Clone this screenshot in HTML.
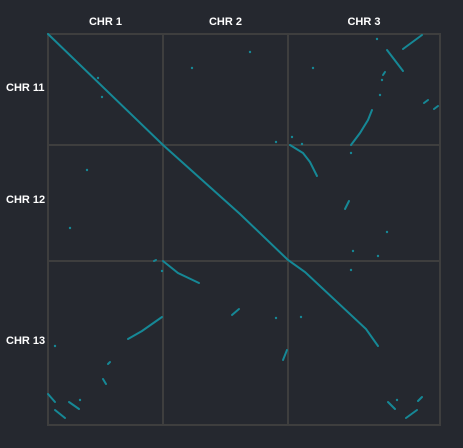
<!DOCTYPE html>
<html><head><meta charset="utf-8"><style>
html,body{margin:0;padding:0;background:#25282f;}
svg{display:block;}
text{font-family:"Liberation Sans",sans-serif;font-weight:bold;font-size:11px;fill:#ffffff;}
</style></head><body>
<svg id="chart" width="463" height="448" viewBox="0 0 463 448">
<rect x="0" y="0" width="463" height="448" fill="#25282f"/>
<g id="grid"></g>
<g id="marks"></g>
<g id="labels"></g>
</svg>
<script>
const xChroms = ["CHR 1","CHR 2","CHR 3"];
const xBounds = [0,115,240,392];
const yChroms = ["CHR 11","CHR 12","CHR 13"];
const yBounds = [0,111,227,391];
const segX = [
 [0,115,192,240,257,318,330],[355,374],[339,355],[337,335],[324,320,312,303],
 [376,380],[386,390],[242,255,262,269],[301,297],[115,130,151],[184,191],
 [239,235],[114,94,80],[62,60],[55,58],[0,7],[7,17],[21,31],[340,347],
 [370,374],[358,369],[106,108]
];
const segY = [
 [0,111,180,226,238,295,312],[15,1],[16,37],[38,41],[76,86,99,111],
 [69,66],[75,72],[111,119,128,142],[167,175],[227,239,249],[281,275],
 [316,326],[283,297,305],[328,330],[345,350],[360,368],[376,384],[368,375],[368,375],
 [367,363],[384,376],[227,226]
];
const dotX = [265,329,202,144,50,54,244,254,228,303,39,22,339,114,228,253,7,32,349,330,305,303,334,332];
const dotY = [34,5,18,34,44,63,103,110,108,119,136,194,198,237,284,283,312,366,366,222,217,236,46,61];

const X0=48,Y0=34,W=392,H=391;
const xs=v=>X0+v*(W/392);
const ys=v=>Y0+v*(H/391);
const NS="http://www.w3.org/2000/svg";
const grid=document.getElementById('grid');
const marks=document.getElementById('marks');
const labels=document.getElementById('labels');
const GC="#3e3e3e";

const frame=document.createElementNS(NS,'rect');
frame.setAttribute('x',xs(0));frame.setAttribute('y',ys(0));
frame.setAttribute('width',W);frame.setAttribute('height',H);
frame.setAttribute('fill','none');frame.setAttribute('stroke',GC);frame.setAttribute('stroke-width','2');


grid.appendChild(frame);

for(let i=1;i<xBounds.length-1;i++){
 const l=document.createElementNS(NS,'line');
 l.setAttribute('x1',xs(xBounds[i]));l.setAttribute('x2',xs(xBounds[i]));
 l.setAttribute('y1',ys(0));l.setAttribute('y2',ys(391));
 l.setAttribute('stroke',GC);l.setAttribute('stroke-width','2');
 
 
 grid.appendChild(l);
}
for(let i=1;i<yBounds.length-1;i++){
 const l=document.createElementNS(NS,'line');
 l.setAttribute('y1',ys(yBounds[i]));l.setAttribute('y2',ys(yBounds[i]));
 l.setAttribute('x1',xs(0));l.setAttribute('x2',xs(392));
 l.setAttribute('stroke',GC);l.setAttribute('stroke-width','2');
 
 
 grid.appendChild(l);
}
xChroms.forEach((c,i)=>{
 const t=document.createElementNS(NS,'text');
 t.setAttribute('x',(xs(xBounds[i])+xs(xBounds[i+1]))/2);
 t.setAttribute('y',25);t.setAttribute('text-anchor','middle');
 t.textContent=c;
 
 
 labels.appendChild(t);
});
const yLabelY=[87,199,340];
yChroms.forEach((c,i)=>{
 const t=document.createElementNS(NS,'text');
 t.setAttribute('x',6);
 t.setAttribute('y',yLabelY[i]+4);
 t.textContent=c;
 
 
 labels.appendChild(t);
});
const C="#168896";
segX.forEach((xsArr,i)=>{
 const pts=xsArr.map((v,j)=>xs(v)+","+ys(segY[i][j])).join(" ");
 const p=document.createElementNS(NS,'polyline');
 p.setAttribute('points',pts);p.setAttribute('fill','none');
 p.setAttribute('stroke',C);p.setAttribute('stroke-width','2');
 p.setAttribute('stroke-linecap','round');
 
 
 marks.appendChild(p);
});
dotX.forEach((v,i)=>{
 const c=document.createElementNS(NS,'circle');
 c.setAttribute('cx',xs(v));c.setAttribute('cy',ys(dotY[i]));c.setAttribute('r','1.2');
 c.setAttribute('fill',C);
 
 
 marks.appendChild(c);
});
</script>
</body></html>
